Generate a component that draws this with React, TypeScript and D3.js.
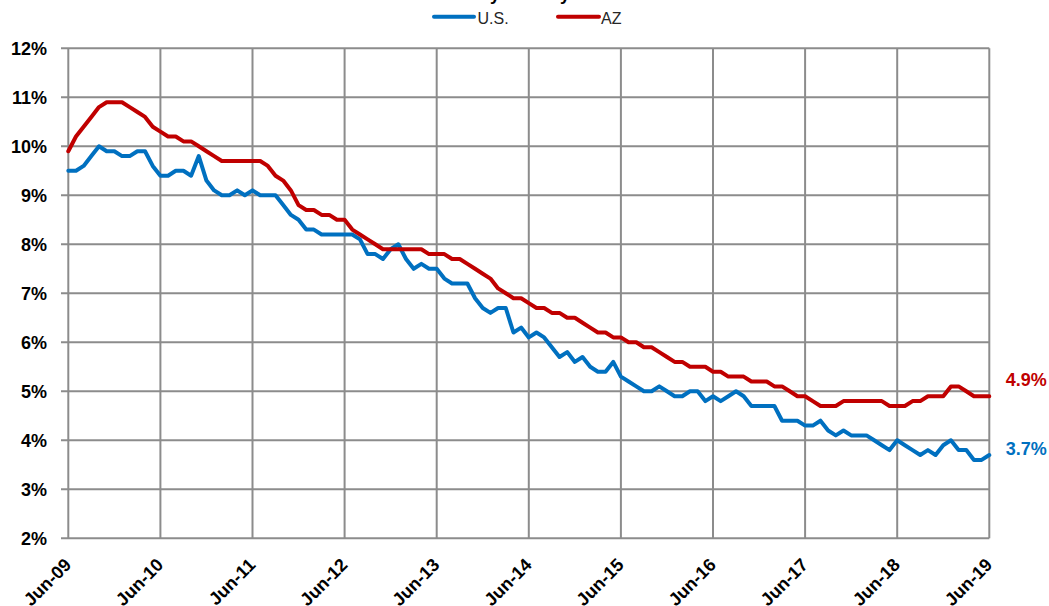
import React from "react";
import * as d3 from "d3";

const xTickLabels = ["Jun-09", "Jun-10", "Jun-11", "Jun-12", "Jun-13", "Jun-14", "Jun-15", "Jun-16", "Jun-17", "Jun-18", "Jun-19"];
const yTicks = [2, 3, 4, 5, 6, 7, 8, 9, 10, 11, 12];

// Monthly, Jun-2009 .. Jun-2019
const usRate = [
  9.5, 9.5, 9.6, 9.8, 10.0, 9.9, 9.9,
  9.8, 9.8, 9.9, 9.9, 9.6, 9.4, 9.4, 9.5, 9.5, 9.4, 9.8, 9.3,
  9.1, 9.0, 9.0, 9.1, 9.0, 9.1, 9.0, 9.0, 9.0, 8.8, 8.6, 8.5,
  8.3, 8.3, 8.2, 8.2, 8.2, 8.2, 8.2, 8.1, 7.8, 7.8, 7.7, 7.9,
  8.0, 7.7, 7.5, 7.6, 7.5, 7.5, 7.3, 7.2, 7.2, 7.2, 6.9, 6.7,
  6.6, 6.7, 6.7, 6.2, 6.3, 6.1, 6.2, 6.1, 5.9, 5.7, 5.8, 5.6,
  5.7, 5.5, 5.4, 5.4, 5.6, 5.3, 5.2, 5.1, 5.0, 5.0, 5.1, 5.0,
  4.9, 4.9, 5.0, 5.0, 4.8, 4.9, 4.8, 4.9, 5.0, 4.9, 4.7, 4.7,
  4.7, 4.7, 4.4, 4.4, 4.4, 4.3, 4.3, 4.4, 4.2, 4.1, 4.2, 4.1,
  4.1, 4.1, 4.0, 3.9, 3.8, 4.0, 3.9, 3.8, 3.7, 3.8, 3.7, 3.9,
  4.0, 3.8, 3.8, 3.6, 3.6, 3.7,
];

const azRate = [
  9.9, 10.2, 10.4, 10.6, 10.8, 10.9, 10.9,
  10.9, 10.8, 10.7, 10.6, 10.4, 10.3, 10.2, 10.2, 10.1, 10.1, 10.0, 9.9,
  9.8, 9.7, 9.7, 9.7, 9.7, 9.7, 9.7, 9.6, 9.4, 9.3, 9.1, 8.8,
  8.7, 8.7, 8.6, 8.6, 8.5, 8.5, 8.3, 8.2, 8.1, 8.0, 7.9, 7.9,
  7.9, 7.9, 7.9, 7.9, 7.8, 7.8, 7.8, 7.7, 7.7, 7.6, 7.5, 7.4,
  7.3, 7.1, 7.0, 6.9, 6.9, 6.8, 6.7, 6.7, 6.6, 6.6, 6.5, 6.5,
  6.4, 6.3, 6.2, 6.2, 6.1, 6.1, 6.0, 6.0, 5.9, 5.9, 5.8, 5.7,
  5.6, 5.6, 5.5, 5.5, 5.5, 5.4, 5.4, 5.3, 5.3, 5.3, 5.2, 5.2,
  5.2, 5.1, 5.1, 5.0, 4.9, 4.9, 4.8, 4.7, 4.7, 4.7, 4.8, 4.8,
  4.8, 4.8, 4.8, 4.8, 4.7, 4.7, 4.7, 4.8, 4.8, 4.9, 4.9, 4.9,
  5.1, 5.1, 5.0, 4.9, 4.9, 4.9,
];

const seriesNames = ["U.S.", "AZ"];
const titleText = "Monthly Data by Year";

const W = 1049;
const H = 606;
const FONT = "'Liberation Sans', Arial, sans-serif";
const BLUE = "#0070C0";
const RED = "#C00000";
const GRID = "#8c8c8c";

export default function App() {
  const x = d3.scaleLinear().domain([0, usRate.length - 1]).range([68.3, 989.3]);
  const y = d3.scaleLinear().domain([2, 12]).range([538.3, 48.3]);
  const line = d3
    .line<number>()
    .x((_, i) => x(i))
    .y((d) => y(d));

  const usLast = usRate[usRate.length - 1];
  const azLast = azRate[azRate.length - 1];
  const lastX = x(usRate.length - 1);

  return (
    <svg
      width={W}
      height={H}
      style={{ position: "absolute", left: 0, top: 0, background: "#fff" }}
      fontFamily={FONT}
    >
      <rect x={0} y={0} width={W} height={H} fill="#fff" />
      {/* cut-off title */}
      <text x={431} y={0} fontSize={18} fontWeight="bold" fill="#000">
        {titleText}
      </text>

      {/* horizontal grid */}
      {yTicks.map((t) => (
        <line key={"h" + t} x1={61} x2={989.3} y1={y(t)} y2={y(t)} stroke={GRID} strokeWidth={2} />
      ))}
      {/* vertical grid */}
      {xTickLabels.map((lab, k) => (
        <line key={"v" + lab} x1={x(k * 12)} x2={x(k * 12)} y1={y(12)} y2={y(2)} stroke={GRID} strokeWidth={2} />
      ))}

      {/* y labels */}
      {yTicks.map((t) => (
        <text key={"yl" + t} x={47} y={y(t)} dy="0.35em" textAnchor="end" fontSize={18} fontWeight="bold" fill="#000">
          {t + "%"}
        </text>
      ))}
      {/* x labels */}
      {xTickLabels.map((lab, k) => (
        <text
          key={"xl" + lab}
          transform={`translate(${x(k * 12) + 4},566) rotate(-45)`}
          textAnchor="end"
          fontSize={18}
          fontWeight="bold"
          fill="#000"
        >
          {lab}
        </text>
      ))}

      {/* series */}
      <path d={line(usRate) || ""} fill="none" stroke={BLUE} strokeWidth={4} strokeLinejoin="round" strokeLinecap="round" />
      <path d={line(azRate) || ""} fill="none" stroke={RED} strokeWidth={4} strokeLinejoin="round" strokeLinecap="round" />

      {/* end labels */}
      <text x={lastX + 16.5} y={y(azLast) - 17} dy="0.35em" fontSize={18} fontWeight="bold" fill={RED}>
        {azLast.toFixed(1) + "%"}
      </text>
      <text x={lastX + 16.5} y={y(usLast) - 6.6} dy="0.35em" fontSize={18} fontWeight="bold" fill={BLUE}>
        {usLast.toFixed(1) + "%"}
      </text>

      {/* legend */}
      <line x1={434} x2={474} y1={16.7} y2={16.7} stroke={BLUE} strokeWidth={4} strokeLinecap="round" />
      <text x={477.5} y={24} fontSize={16} fill="#262626">{seriesNames[0]}</text>
      <line x1={558} x2={599} y1={16.7} y2={16.7} stroke={RED} strokeWidth={4} strokeLinecap="round" />
      <text x={601} y={24} fontSize={16} fill="#262626">{seriesNames[1]}</text>
    </svg>
  );
}
